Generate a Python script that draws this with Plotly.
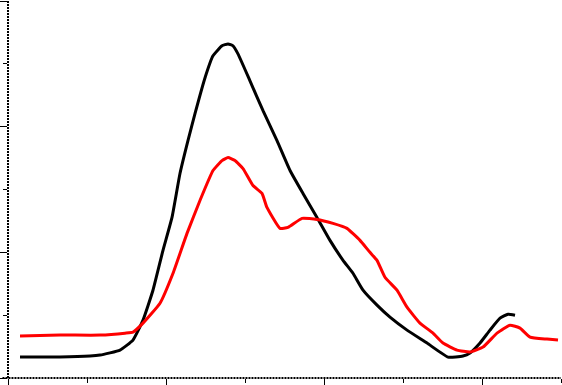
import plotly.graph_objects as go

# Black series
black_x = [1.52, 6.58, 10.38, 11.65, 14.18, 15.82, 17.09, 18.35, 19.62, 20.76, 21.77, 22.78,
           23.67, 24.94, 25.95, 27.09, 27.85, 28.48, 29.11, 30.63, 32.28, 34.05, 35.70, 37.34,
           39.11, 40.76, 42.41, 43.67, 44.94, 46.71, 48.35, 50.51, 53.04, 55.70, 57.59, 58.48,
           59.75, 61.01, 62.28, 63.29, 64.18]
black_y = [3.33, 3.33, 3.49, 3.65, 4.44, 6.03, 9.21, 13.97, 20.32, 25.56, 32.54, 37.78,
           42.06, 47.78, 51.27, 52.86, 53.17, 52.86, 51.59, 47.30, 42.54, 37.78, 33.02, 29.37,
           25.56, 21.90, 18.73, 16.67, 13.97, 11.59, 9.68, 7.62, 5.56, 3.33, 3.49, 3.97,
           5.56, 7.62, 9.52, 10.16, 10.00]

# Red series
red_x = [1.52, 6.58, 11.65, 14.81, 15.82, 17.09, 19.24, 20.89, 22.66, 24.30, 25.95, 27.09,
         27.85, 28.73, 29.75, 31.01, 32.15, 32.78, 34.43, 35.44, 37.22, 39.11, 41.14, 42.91,
         44.56, 45.82, 46.71, 47.72, 49.24, 50.51, 52.15, 53.80, 55.06, 56.84, 58.48, 60.13,
         61.90, 63.54, 64.81, 66.08, 68.23, 69.62]
red_y = [6.67, 6.83, 6.83, 7.14, 7.30, 8.73, 11.90, 16.67, 23.02, 28.25, 33.02, 34.60,
         35.08, 34.60, 33.33, 30.63, 29.37, 27.14, 23.81, 23.97, 25.40, 25.24, 24.60, 23.81,
         21.90, 20.00, 18.73, 16.03, 13.97, 11.27, 8.73, 7.14, 5.56, 4.44, 4.13, 4.92,
         7.14, 8.41, 7.94, 6.51, 6.19, 6.03]

x_major_ticks = [0, 20, 40, 60]
x_minor_ticks = [10, 30, 50, 70]
y_major_ticks = [0, 20, 40, 60]
y_minor_ticks = [10, 30, 50]

fig = go.Figure()
fig.add_trace(go.Scatter(x=black_x, y=black_y, mode="lines",
                         line=dict(color="#000000", width=3, shape="spline", smoothing=0.4)))
fig.add_trace(go.Scatter(x=red_x, y=red_y, mode="lines",
                         line=dict(color="#ff0000", width=3, shape="spline", smoothing=0.4)))

axis_common = dict(showgrid=False, zeroline=False, showticklabels=False,
                   ticks="outside", ticklen=7, tickwidth=1, tickcolor="#000000",
                   showline=False, fixedrange=True)
fig.update_xaxes(range=[0, 70], tickvals=x_major_ticks,
                 minor=dict(tickvals=x_minor_ticks, ticks="outside", ticklen=4,
                            tickwidth=1, tickcolor="#000000", showgrid=False),
                 **axis_common)
fig.update_yaxes(range=[0, 60], tickvals=y_major_ticks,
                 minor=dict(tickvals=y_minor_ticks, ticks="outside", ticklen=4,
                            tickwidth=1, tickcolor="#000000", showgrid=False),
                 **axis_common)

# dotted axis lines
fig.add_shape(type="line", xref="paper", yref="paper", x0=0, x1=0, y0=0, y1=1,
              line=dict(color="#000000", width=2, dash="2px,1px"))
fig.add_shape(type="line", xref="paper", yref="paper", x0=-0.01, x1=1, y0=0, y1=0,
              line=dict(color="#000000", width=2, dash="2px,1px"))

fig.update_layout(width=562, height=385, autosize=False,
                  margin=dict(l=8, r=1, t=1, b=7, pad=0),
                  paper_bgcolor="#ffffff", plot_bgcolor="#ffffff",
                  showlegend=False)

fig.write_html("out.html", config={"displayModeBar": False},
               post_script="document.body.style.margin='0';document.body.style.overflow='hidden';")
